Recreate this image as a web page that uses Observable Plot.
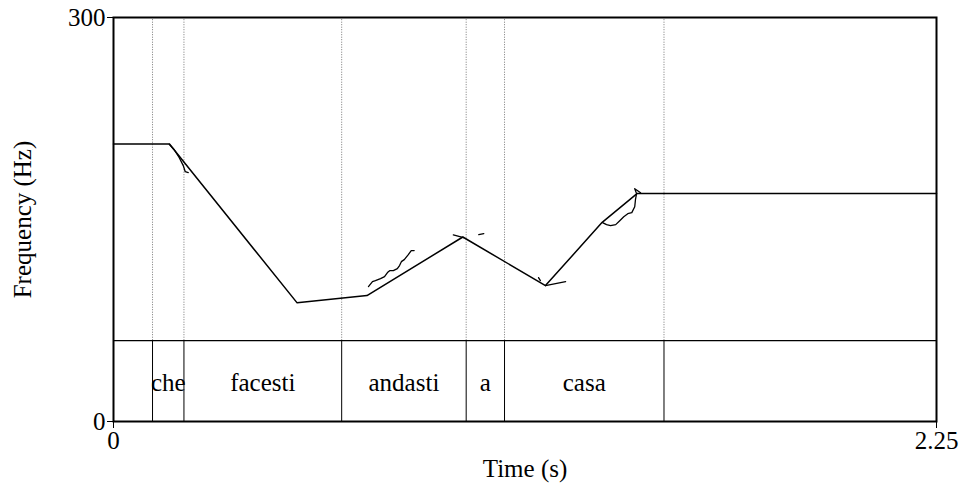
<!DOCTYPE html>
<html>
<head>
<meta charset="utf-8">
<script src="https://cdn.jsdelivr.net/npm/d3@7"></script>
<script src="https://cdn.jsdelivr.net/npm/@observablehq/plot@0.6"></script>
<style>
  html, body { margin: 0; padding: 0; background: white; }
  svg text { font-family: "Liberation Serif", "Times New Roman", serif !important; }
</style>
</head>
<body>
<div id="chart"></div>
<script>
// Word boundaries (s) and words of the text tier
const boundaries = [0.1067, 0.1926, 0.6238, 0.9642, 1.069, 1.505];
const words = ["che", "facesti", "andasti", "a", "casa"];

// Stylized pitch contour (s, Hz)
const stylTimes = [0, 0.153, 0.502, 0.693, 0.955, 1.181, 1.336, 1.432, 2.25];
const stylFreqs = [206, 206, 88.1, 93.5, 137.0, 100.9, 147.9, 169.4, 169.4];

// Original pitch fragments (segment id, s, Hz)
const fragIds = [
  1,1,1,1,1,1,
  2,2,2,2,2,2,2,2,2,2,2,2,2,2,2,
  3,3,
  4,4,
  5,5,
  6,6,
  7,7,7,7,7,7,7,7,7,7,7,7,7
];
const fragTimes = [
  0.1524, 0.1661, 0.1798, 0.1907, 0.1962, 0.2044,
  0.697, 0.708, 0.716, 0.730, 0.741, 0.749, 0.755, 0.765, 0.776, 0.782, 0.787, 0.795, 0.806, 0.814, 0.822,
  0.929, 0.957,
  0.9986, 1.0123,
  1.162, 1.167,
  1.181, 1.236,
  1.337, 1.348, 1.359, 1.373, 1.384, 1.395, 1.406, 1.417, 1.425, 1.427, 1.430, 1.425, 1.441
];
const fragFreqs = [
  205.9, 201.8, 195.9, 190.0, 185.5, 184.8,
  100.2, 103.9, 104.6, 106.1, 107.6, 110.6, 112.0, 112.0, 113.5, 115.8, 118.7, 120.2, 123.9, 126.9, 126.9,
  138.5, 136.5,
  138.8, 139.5,
  106.8, 104.6,
  100.9, 103.9,
  147.7, 146.2, 145.4, 146.2, 149.1, 152.1, 154.3, 155.1, 159.5, 164.7, 169.2, 172.9, 169.9
];

// Axis ticks
const xTicks = [0, 2.25];
const yTicks = [0, 300];
const tierTop = 60;

const styl = stylTimes.map((t, i) => ({t, f: stylFreqs[i]}));
const frags = fragTimes.map((t, i) => ({id: fragIds[i], t, f: fragFreqs[i]}));
const intervals = words.map((w, i) => ({w, mid: (boundaries[i] + boundaries[i + 1]) / 2}));

const serif = "Liberation Serif";

const chart = Plot.plot({
  width: 959,
  height: 488,
  marginLeft: 113,
  marginRight: 23,
  marginTop: 17,
  marginBottom: 67,
  style: {fontFamily: serif, fontSize: "25px", background: "white", color: "black"},
  x: {domain: [0, 2.25]},
  y: {domain: [0, 300]},
  marks: [
    Plot.ruleX(boundaries, {y1: tierTop, y2: 300, stroke: "#777", strokeWidth: 1, strokeDasharray: "1,1.5"}),
    Plot.ruleX(boundaries, {y1: 0, y2: tierTop, stroke: "black", strokeWidth: 1}),
    Plot.ruleY([tierTop], {stroke: "black", strokeWidth: 1.2}),
    Plot.text(intervals, {x: "mid", y: tierTop / 2, dy: 2, text: "w", fontSize: 25, fontFamily: serif, fill: "black"}),
    Plot.line(frags, {x: "t", y: "f", z: "id", stroke: "black", strokeWidth: 1.3}),
    Plot.line(styl, {x: "t", y: "f", stroke: "black", strokeWidth: 1.5}),
    Plot.frame({stroke: "black", strokeWidth: 2}),
    Plot.axisY(yTicks, {tickSize: 6, tickPadding: 2, label: null, fontSize: 25, fontFamily: serif, tickFormat: d => String(d)}),
    Plot.axisX(xTicks, {tickSize: 7, tickPadding: 3, label: null, fontSize: 25, fontFamily: serif, tickFormat: d => String(d)}),
    Plot.text(["Time (s)"], {frameAnchor: "bottom", dy: 47, lineAnchor: "middle", textAnchor: "middle", fontSize: 25, fontFamily: serif, fill: "black"}),
    Plot.text(["Frequency (Hz)"], {frameAnchor: "left", dx: -91, rotate: -90, lineAnchor: "middle", textAnchor: "middle", fontSize: 25, fontFamily: serif, fill: "black"})
  ]
});
document.getElementById("chart").appendChild(chart);
</script>
</body>
</html>
